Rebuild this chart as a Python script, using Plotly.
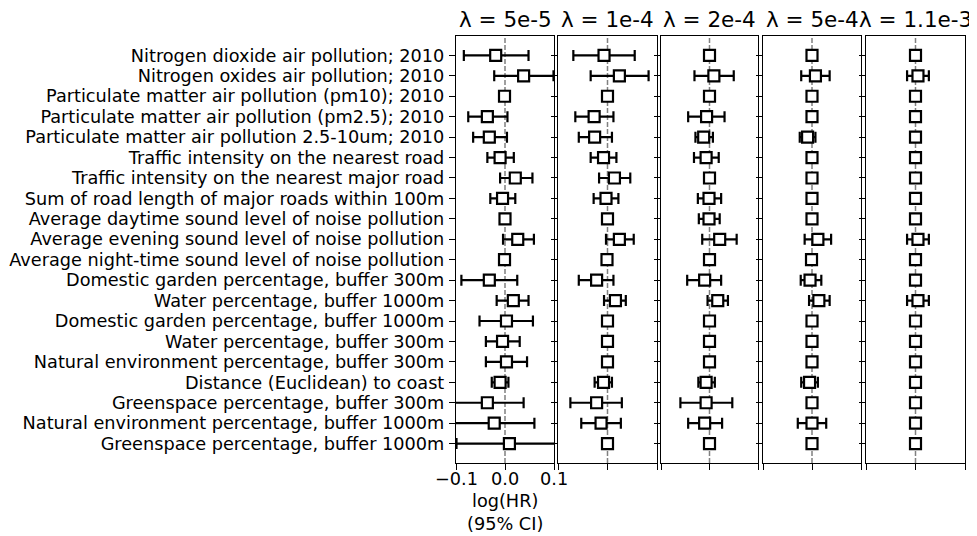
import plotly.graph_objects as go

labels = [
    "Nitrogen dioxide air pollution; 2010",
    "Nitrogen oxides air pollution; 2010",
    "Particulate matter air pollution (pm10); 2010",
    "Particulate matter air pollution (pm2.5); 2010",
    "Particulate matter air pollution 2.5-10um; 2010",
    "Traffic intensity on the nearest road",
    "Traffic intensity on the nearest major road",
    "Sum of road length of major roads within 100m",
    "Average daytime sound level of noise pollution",
    "Average evening sound level of noise pollution",
    "Average night-time sound level of noise pollution",
    "Domestic garden percentage, buffer 300m",
    "Water percentage, buffer 1000m",
    "Domestic garden percentage, buffer 1000m",
    "Water percentage, buffer 300m",
    "Natural environment percentage, buffer 300m",
    "Distance (Euclidean) to coast",
    "Greenspace percentage, buffer 300m",
    "Natural environment percentage, buffer 1000m",
    "Greenspace percentage, buffer 1000m",
]

panel_titles = ["λ = 5e-5", "λ = 1e-4", "λ = 2e-4", "λ = 5e-4", "λ = 1.1e-3"]

# panel 1 (lambda = 5e-5)
est1 = [-0.019, 0.038, -0.001, -0.036, -0.032, -0.010, 0.021, -0.005, 0.000, 0.026,
        -0.001, -0.032, 0.017, 0.003, -0.005, 0.003, -0.010, -0.036, -0.022, 0.009]
lo1 = [-0.084, -0.022, -0.004, -0.075, -0.065, -0.036, -0.010, -0.030, -0.003, -0.004,
       -0.006, -0.089, -0.017, -0.052, -0.039, -0.039, -0.027, -0.120, -0.120, -0.099]
hi1 = [0.048, 0.099, 0.003, 0.005, 0.004, 0.018, 0.056, 0.021, 0.003, 0.059,
       0.005, 0.025, 0.048, 0.057, 0.030, 0.045, 0.007, 0.038, 0.060, 0.130]

# panel 2 (lambda = 1e-4)
est2 = [-0.007, 0.024, 0.000, -0.027, -0.026, -0.008, 0.014, -0.003, 0.000, 0.024,
        -0.001, -0.022, 0.016, 0.000, 0.000, 0.000, -0.008, -0.022, -0.013, 0.000]
lo2 = [-0.069, -0.034, -0.002, -0.065, -0.058, -0.034, -0.017, -0.028, -0.002, -0.003,
       -0.003, -0.058, -0.007, -0.002, -0.002, -0.002, -0.026, -0.075, -0.053, -0.002]
hi2 = [0.055, 0.083, 0.002, 0.012, 0.009, 0.018, 0.046, 0.022, 0.002, 0.053,
       0.001, 0.012, 0.037, 0.002, 0.002, 0.002, 0.009, 0.029, 0.027, 0.002]

# panel 3 (lambda = 2e-4)
est3 = [0.000, 0.009, 0.000, -0.006, -0.012, -0.007, 0.000, -0.001, -0.001, 0.021,
        0.000, -0.010, 0.017, 0.000, 0.000, 0.000, -0.007, -0.007, -0.010, 0.000]
lo3 = [-0.002, -0.031, -0.002, -0.044, -0.029, -0.032, -0.002, -0.024, -0.022, -0.015,
       -0.002, -0.046, -0.004, -0.002, -0.002, -0.002, -0.023, -0.060, -0.044, -0.002]
hi3 = [0.002, 0.050, 0.002, 0.031, 0.007, 0.019, 0.002, 0.024, 0.021, 0.056,
       0.002, 0.024, 0.038, 0.002, 0.002, 0.002, 0.011, 0.047, 0.026, 0.002]

# panel 4 (lambda = 5e-4)
est4 = [0.000, 0.007, 0.000, 0.000, -0.009, 0.000, 0.000, 0.000, 0.000, 0.012,
        -0.001, -0.004, 0.014, 0.000, 0.000, 0.000, -0.005, 0.000, 0.000, 0.000]
lo4 = [-0.002, -0.022, -0.002, -0.002, -0.025, -0.002, -0.002, -0.002, -0.002, -0.015,
       -0.005, -0.023, -0.006, -0.002, -0.002, -0.002, -0.022, -0.002, -0.029, -0.002]
hi4 = [0.002, 0.036, 0.002, 0.002, 0.007, 0.002, 0.002, 0.002, 0.002, 0.039,
       0.004, 0.019, 0.036, 0.002, 0.002, 0.002, 0.012, 0.002, 0.029, 0.002]

# panel 5 (lambda = 1.1e-3)
est5 = [0.000, 0.005, 0.000, 0.000, 0.000, 0.000, 0.000, 0.000, 0.000, 0.005,
        0.000, 0.000, 0.005, 0.000, 0.000, 0.000, 0.000, 0.000, 0.000, 0.000]
lo5 = [-0.002, -0.017, -0.002, -0.002, -0.002, -0.002, -0.002, -0.002, -0.002, -0.017,
       -0.002, -0.002, -0.017, -0.002, -0.002, -0.002, -0.002, -0.002, -0.002, -0.002]
hi5 = [0.002, 0.027, 0.002, 0.002, 0.002, 0.002, 0.002, 0.002, 0.002, 0.027,
       0.002, 0.002, 0.027, 0.002, 0.002, 0.002, 0.002, 0.002, 0.002, 0.002]

x_ticks = [-0.1, 0.0, 0.1]
x_ticktext = ["−0.1", "0.0", "0.1"]

panels = [(est1, lo1, hi1), (est2, lo2, hi2), (est3, lo3, hi3), (est4, lo4, hi4), (est5, lo5, hi5)]

OFF = 8  # default page body margin
W, H = 977 - OFF, 536 - OFF
px_domains = [(456, 554), (558, 657), (661, 758), (763, 861), (866, 965)]
y_top, y_bot = 36, 463


def fx(px):
    return (px - OFF) / W


def fy(py):
    return 1 - (py - OFF) / H


ydom = [fy(y_bot), fy(y_top)]

FONT = "DejaVu Sans"
FS = 17.7
fig = go.Figure()
layout = dict(
    width=W, height=H,
    margin=dict(l=0, r=0, t=0, b=0),
    paper_bgcolor="white", plot_bgcolor="white",
    font=dict(family=FONT, size=FS, color="black"),
    showlegend=False,
    shapes=[], annotations=[],
)

for i, ((est, lo, hi), (x0, x1)) in enumerate(zip(panels, px_domains)):
    n = i + 1
    xa = "x" if n == 1 else f"x{n}"
    ya = "y" if n == 1 else f"y{n}"
    plus = [h - e for h, e in zip(hi, est)]
    minus = [e - l for e, l in zip(est, lo)]
    fig.add_trace(go.Scatter(
        x=est, y=labels, xaxis=xa, yaxis=ya, mode="markers",
        marker=dict(symbol="square", size=11, color="white",
                    line=dict(color="black", width=2.2)),
        error_x=dict(type="data", array=plus, arrayminus=minus, symmetric=False,
                     color="black", thickness=2.2, width=5.5),
        hoverinfo="skip",
    ))
    xkey = "xaxis" if n == 1 else f"xaxis{n}"
    ykey = "yaxis" if n == 1 else f"yaxis{n}"
    layout[xkey] = dict(
        domain=[fx(x0), fx(x1)], anchor=ya, range=[-0.1, 0.1],
        tickmode="array", tickvals=x_ticks, showticklabels=False,
        ticks="outside", ticklen=6, tickwidth=1.2, tickcolor="black",
        showline=True, mirror=True, linecolor="black", linewidth=1.3,
        showgrid=False, zeroline=False, automargin=False,
    )
    layout[ykey] = dict(
        domain=ydom, anchor=xa, type="category",
        categoryorder="array", categoryarray=labels,
        range=[len(labels) - 1 + 0.95, -0.95],
        tickmode="array", tickvals=labels, ticktext=labels,
        showticklabels=(n == 1), ticklabelstandoff=1,
        ticks="outside", ticklen=6, tickwidth=1.2, tickcolor="black",
        showline=True, mirror=True, linecolor="black", linewidth=1.3,
        showgrid=False, zeroline=False, automargin=False,
        tickfont=dict(family=FONT, size=FS),
    )
    layout["shapes"].append(dict(
        type="line", xref=xa, yref=f"{ya} domain", x0=0, x1=0, y0=0, y1=1,
        line=dict(color="gray", width=1.5, dash="5px,2px"), layer="below",
    ))
    layout["annotations"].append(dict(
        text=panel_titles[i], xref=f"{xa} domain", yref="paper",
        x=0.5, y=fy(34), xanchor="center", yanchor="bottom",
        showarrow=False, font=dict(family=FONT, size=21.5, color="black"),
    ))

# x tick labels of the first panel, placed on its axis scale
for v, t in zip(x_ticks, x_ticktext):
    layout["annotations"].append(dict(
        text=t, xref="x", yref="paper", x=v, y=fy(467), xanchor="center",
        yanchor="top", showarrow=False, font=dict(family=FONT, size=FS, color="black"),
    ))

layout["annotations"].append(dict(
    text="log(HR)<br>(95% CI)", xref="x domain", yref="paper",
    x=0.5, y=fy(489), xanchor="center", yanchor="top",
    showarrow=False, font=dict(family=FONT, size=FS, color="black"),
))

fig.update_layout(**layout)
fig.write_html("out.html")
